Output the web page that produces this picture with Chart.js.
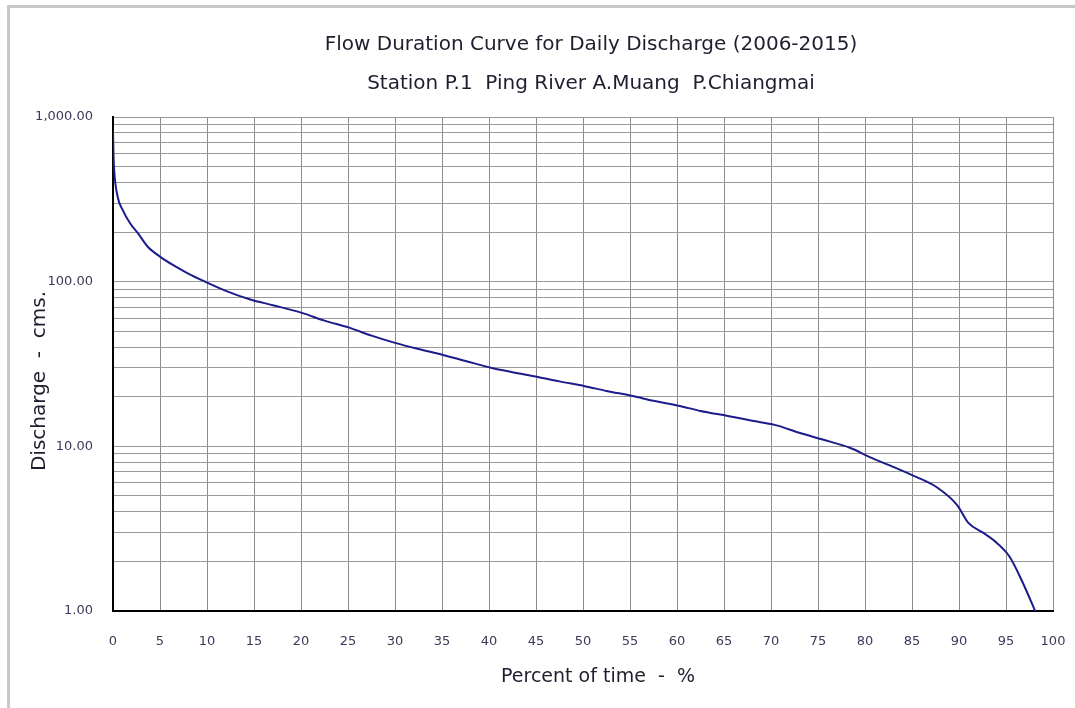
<!DOCTYPE html>
<html>
<head>
<meta charset="utf-8">
<script src="https://cdn.jsdelivr.net/npm/chart.js@4.4.1/dist/chart.umd.min.js"></script>
<style>
    html, body { margin: 0; padding: 0; background: #fff; overflow: hidden; }
    #wrap { position: relative; width: 1075px; height: 708px; }
    #frame {
        position: absolute; left: 7px; top: 5px; width: 1200px; height: 800px;
        border-top: 3px solid #c8c8c8; border-left: 3px solid #c8c8c8;
    }
    canvas { position: absolute; left: 0; top: 0; }
</style>
</head>
<body>
<div id="wrap">
    <div id="frame"></div>
    <canvas id="fdcChart" width="1075" height="708"></canvas>
</div>
<script>
// Porcentaje del tiempo (%) y caudal (cms)
const percentTime = [
    0, 0.05, 0.12, 0.5, 1, 1.8, 2.7, 3.7, 5, 6.5, 8, 9.8, 12, 14.6, 17, 20.1,
    22.5, 25.2, 27.5, 30, 32.5, 35.1, 37.5, 40.3, 42.5, 45.2, 47.5, 50.2, 52.5,
    55.3, 57.5, 60.3, 62.5, 65.4, 68, 70.4, 73.1, 75.5, 78.4, 80.5, 83, 85.5,
    87.6, 89.8, 91, 92.6, 94, 95.4, 96.8, 98.2
];
const discharge = [
    830, 600, 480, 327, 275, 227, 195, 163, 142, 125, 112, 100, 88, 78, 72, 64.6,
    58, 52.4, 47, 42.5, 39, 35.9, 33, 29.9, 28.2, 26.4, 24.8, 23.2, 21.7,
    20.2, 18.9, 17.6, 16.4, 15.3, 14.3, 13.5, 12.05, 11, 9.8, 8.6, 7.5, 6.5,
    5.66, 4.4, 3.43, 2.98, 2.6, 2.13, 1.48, 0.97
];

// Líneas de la rejilla logarítmica y etiquetas del eje Y
const yGridValues = [
    1, 2, 3, 4, 5, 6, 7, 8, 9,
    10, 20, 30, 40, 50, 60, 70, 80, 90,
    100, 200, 300, 400, 500, 600, 700, 800, 900,
    1000
];
const yLabelValues = [1, 10, 100, 1000];

const titleLines = [
    'Flow Duration Curve for Daily Discharge (2006-2015)',
    'Station P.1  Ping River A.Muang  P.Chiangmai'
];
const xTitle = 'Percent of time  -  %';
const yTitle = 'Discharge  -  cms.';

const fontFamily = '"DejaVu Sans", Verdana, sans-serif';

const points = percentTime.map((x, i) => ({ x: x, y: discharge[i] }));

// Títulos dibujados a mano, colocados respecto al área de la gráfica
const plotTitles = {
    id: 'plotTitles',
    afterDraw(chart) {
        const c = chart.ctx;
        const area = chart.chartArea;
        const cx = (area.left + area.right) / 2;
        const cy = (area.top + area.bottom) / 2;
        c.save();
        c.fillStyle = '#1e1e2e';
        c.textAlign = 'center';
        c.textBaseline = 'middle';
        c.font = '20px ' + fontFamily;
        c.fillText(titleLines[0], cx + 8, 45);
        c.fillText(titleLines[1], cx + 8, 84);
        c.font = '19px ' + fontFamily;
        c.fillText(xTitle, cx + 15, 677);
        c.translate(40, cy + 17);
        c.rotate(-Math.PI / 2);
        c.font = '20px ' + fontFamily;
        c.fillText(yTitle, 0, 0);
        c.restore();
    }
};

const ctx = document.getElementById('fdcChart').getContext('2d');

new Chart(ctx, {
    type: 'line',
    data: {
        datasets: [{
            data: points,
            borderColor: '#1c1c8a',
            borderWidth: 2,
            pointRadius: 0,
            cubicInterpolationMode: 'monotone',
            fill: false
        }]
    },
    plugins: [plotTitles],
    options: {
        responsive: false,
        animation: false,
        layout: { padding: { left: 22, right: 22, top: 117, bottom: 8 } },
        plugins: {
            legend: { display: false },
            tooltip: { enabled: false },
            title: { display: false }
        },
        scales: {
            x: {
                type: 'linear',
                min: 0,
                max: 100,
                afterFit: (scale) => { scale.height = 89; },
                ticks: {
                    stepSize: 5,
                    color: '#3a3a5a',
                    padding: 1,
                    maxRotation: 0,
                    font: { family: fontFamily, size: 13 }
                },
                grid: {
                    color: '#8c8c8c',
                    lineWidth: 1,
                    drawTicks: true,
                    tickLength: 22,
                    tickColor: 'rgba(0,0,0,0)'
                },
                border: { color: '#000', width: 2 }
            },
            y: {
                type: 'logarithmic',
                min: 1,
                max: 1000,
                afterFit: (scale) => { scale.width = 91; },
                afterBuildTicks: (scale) => {
                    scale.ticks = yGridValues.map((v) => ({ value: v }));
                },
                ticks: {
                    autoSkip: false,
                    color: '#3a3a5a',
                    padding: 20,
                    font: { family: fontFamily, size: 13 },
                    callback: (value) => yLabelValues.includes(value)
                        ? value.toLocaleString('en-US', { minimumFractionDigits: 2 })
                        : ''
                },
                grid: { color: '#9a9a9a', lineWidth: 1, drawTicks: false },
                border: { color: '#000', width: 2 }
            }
        }
    }
});
</script>
</body>
</html>
